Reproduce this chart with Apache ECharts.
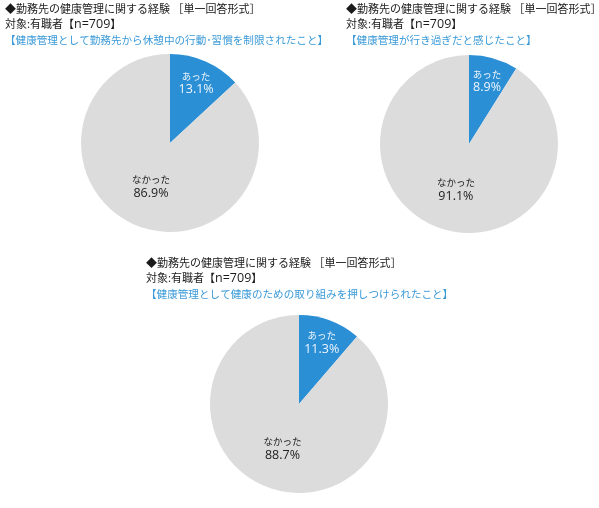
<!DOCTYPE html>
<html><head><meta charset="utf-8">
<script src="https://cdn.jsdelivr.net/npm/echarts@6/dist/echarts.min.js"></script>
<style>html,body{margin:0;padding:0;background:#fff}#c{width:599px;height:508px}</style>
</head><body><div id="c"></div>
<script>
const categories = ['あった', 'なかった'];
const pie1Values = [13.1, 86.9];
const pie2Values = [8.9, 91.1];
const pie3Values = [11.3, 88.7];
const titleLine1 = '◆勤務先の健康管理に関する経験 ［単一回答形式］';
const titleLine2a = '対象:有職者【';
const titleLine2b = 'n=709';
const titleLine2c = '】';
const subTitles = [
  '【健康管理として勤務先から休憩中の行動･習慣を制限されたこと】',
  '【健康管理が行き過ぎだと感じたこと】',
  '【健康管理として健康のための取り組みを押しつけられたこと】'
];

const FONT = '"Noto Sans CJK JP", "Noto Sans", sans-serif';
const LATIN = '"Open Sans", "Noto Sans", sans-serif';
const colors = ['#2b8fd6', '#dcdcdc'];
const pies = [
  {vals: pie1Values, center: [170, 143], title: [0, -4]},
  {vals: pie2Values, center: [469, 144], title: [341, -4]},
  {vals: pie3Values, center: [299, 404], title: [141, 250]}
];
const R = 89;

function labelRich(col) {
  return {
    n: {fontFamily: FONT, fontSize: 9.5, color: col, lineHeight: 13, align: 'center'},
    v: {fontFamily: LATIN, fontSize: 12.5, color: col, lineHeight: 14, align: 'center'}
  };
}

const series = [];
const titles = [];
pies.forEach((p, i) => {
  const data = categories.map((c, k) => ({name: c, value: p.vals[k]}));
  series.push({
    type: 'pie', center: p.center, radius: [0, R], startAngle: 90, clockwise: true,
    silent: true, animation: false,
    itemStyle: {color: (d) => colors[d.dataIndex], borderWidth: 0},
    label: {
      show: true, position: 'inside', rich: labelRich('#222'),
      formatter: (d) => d.dataIndex === 1 ? '{n|' + d.name + '}\n{v|' + d.value.toFixed(1) + '%}' : ''
    },
    labelLine: {show: false},
    data: data
  });
  series.push({
    type: 'pie', center: p.center, radius: [0, R * 1.4], startAngle: 90, clockwise: true,
    silent: true, animation: false, z: 3,
    itemStyle: {color: 'rgba(0,0,0,0)'},
    label: {
      show: true, position: 'inside', rich: labelRich('#eef5fc'),
      formatter: (d) => d.dataIndex === 0 ? '{n|' + d.name + '}\n{v|' + d.value.toFixed(1) + '%}' : ''
    },
    labelLine: {show: false},
    data: data
  });
  titles.push({
    left: p.title[0], top: p.title[1],
    text: '{a|' + titleLine1 + '}\n{a|' + titleLine2a + '}{c|' + titleLine2b + '}{a|' + titleLine2c + '}\n{b|' + subTitles[i] + '}',
    textStyle: {
      fontWeight: 'normal',
      rich: {
        a: {fontFamily: FONT, fontSize: 11, fontWeight: 'normal', color: '#1a1a1a', lineHeight: 15.5},
        c: {fontFamily: LATIN, fontSize: 12.5, fontWeight: 'normal', color: '#1a1a1a', lineHeight: 15.5},
        b: {fontFamily: FONT, fontSize: 10.6, fontWeight: 'normal', color: '#3a9ad8', lineHeight: 15.5}
      }
    }
  });
});

const chart = echarts.init(document.getElementById('c'));
chart.setOption({backgroundColor: '#fff', animation: false, title: titles, series: series});
</script></body></html>
